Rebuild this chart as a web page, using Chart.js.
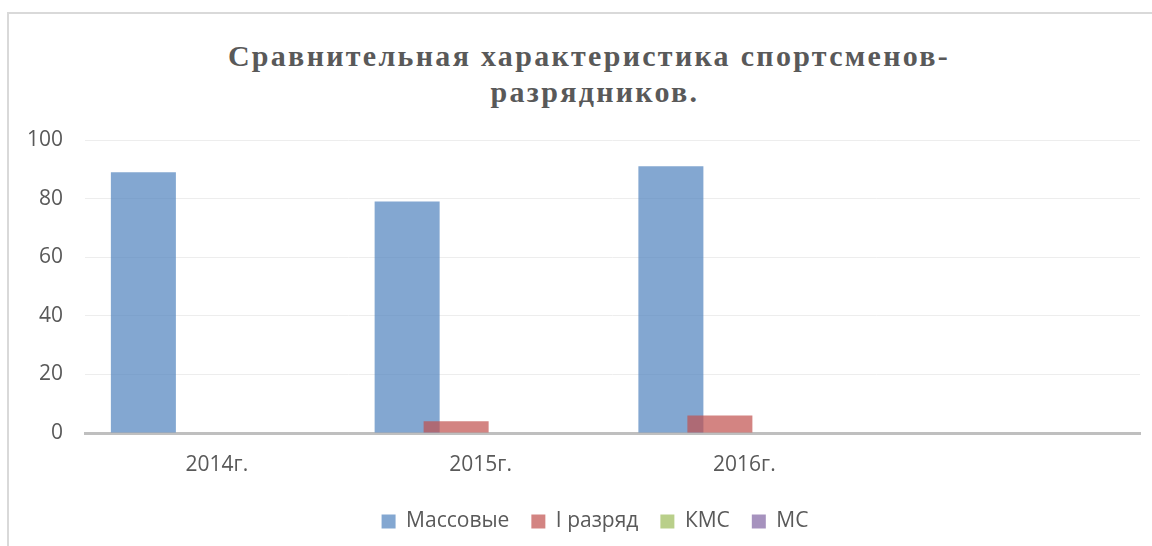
<!DOCTYPE html>
<html lang="ru">
<head>
<meta charset="UTF-8">
<title>Сравнительная характеристика спортсменов-разрядников</title>
<script src="https://cdn.jsdelivr.net/npm/chart.js"></script>
<style>
  html, body { margin: 0; padding: 0; background: #fff; }
  #wrap { position: relative; width: 1152px; height: 546px; overflow: hidden; }
  #frame {
    position: absolute; left: 7px; top: 12px; width: 1200px; height: 600px;
    border-top: 2px solid #D9D9D9; border-left: 2px solid #D9D9D9;
  }
  .title {
    position: absolute; width: 800px; text-align: center;
    font: bold 30px "Liberation Serif", "Times New Roman", serif;
    letter-spacing: 2.3px; color: #595959; line-height: 40px;
  }
  #myChart { position: absolute; left: 0; top: 0; }
</style>
</head>
<body>
<div id="wrap">
  <div id="frame"></div>
  <div class="title" style="left:189px; top:36px;">Сравнительная характеристика спортсменов-</div>
  <div class="title" style="left:195px; top:72px;">разрядников.</div>
  <canvas id="myChart" width="1152" height="546"></canvas>
</div>

<script>
  // данные
  const categories = ['2014г.', '2015г.', '2016г.', ''];
  const seriesNames = ['Массовые', 'I разряд', 'КМС', 'МС'];
  const massovye = [89, 79, 91, null];
  const razryad1 = [0, 4, 6, null];
  const kms = [0, 0, 0, null];
  const ms = [0, 0, 0, null];
  const yTicks = [0, 20, 40, 60, 80, 100];

  const colors = ['rgba(79,129,189,0.7)', 'rgba(192,80,77,0.7)', 'rgba(155,187,89,0.7)', 'rgba(128,100,162,0.7)'];
  const values = [massovye, razryad1, kms, ms];

  // как в Excel: следующие ряды рисуются поверх предыдущих
  const drawOrderPlugin = {
    id: 'drawOrder',
    afterLayout(chart) {
      // легенда в оригинале чуть сдвинута вправо
      chart.legend.left += 25;
      chart.legend.right += 25;
    },
    beforeDatasetDraw() { return false; },
    afterDatasetsDraw(chart) {
      for (let i = 0; i < chart.data.datasets.length; i++) {
        const meta = chart.getDatasetMeta(i);
        if (meta.visible) meta.controller.draw();
      }
    }
  };

  const font = '"Open Sans", "Noto Sans", sans-serif';

  new Chart(document.getElementById('myChart'), {
    type: 'bar',
    data: {
      labels: categories,
      datasets: seriesNames.map((name, i) => ({
        label: name,
        data: values[i],
        backgroundColor: colors[i],
        borderWidth: 0,
        categoryPercentage: 0.743,
        barPercentage: 1.327
      }))
    },
    options: {
      responsive: false,
      animation: false,
      layout: { padding: { top: 140, right: 12, left: 0, bottom: 4 } },
      plugins: {
        title: { display: false },
        tooltip: { enabled: false },
        legend: {
          position: 'bottom',
          labels: {
            boxWidth: 14, boxHeight: 14, padding: 22,
            color: '#595959',
            font: { family: font, size: 21 }
          }
        }
      },
      scales: {
        x: {
          grid: { display: false },
          border: { color: '#BFBFBF', width: 3 },
          ticks: { color: '#595959', padding: 11, font: { family: font, size: 21 } },
          afterFit(scale) { scale.height = 56; }
        },
        y: {
          min: 0, max: 100,
          afterBuildTicks(scale) { scale.ticks = yTicks.map(v => ({ value: v })); },
          grid: {
            drawTicks: false,
            color: ctx => ctx.tick && ctx.tick.value === 0 ? 'rgba(0,0,0,0)' : '#EDEDED',
            lineWidth: 1
          },
          border: { display: false },
          ticks: { color: '#595959', padding: 22, font: { family: font, size: 21 } },
          afterFit(scale) { scale.width = 85; }
        }
      }
    },
    plugins: [drawOrderPlugin]
  });
</script>
</body>
</html>
